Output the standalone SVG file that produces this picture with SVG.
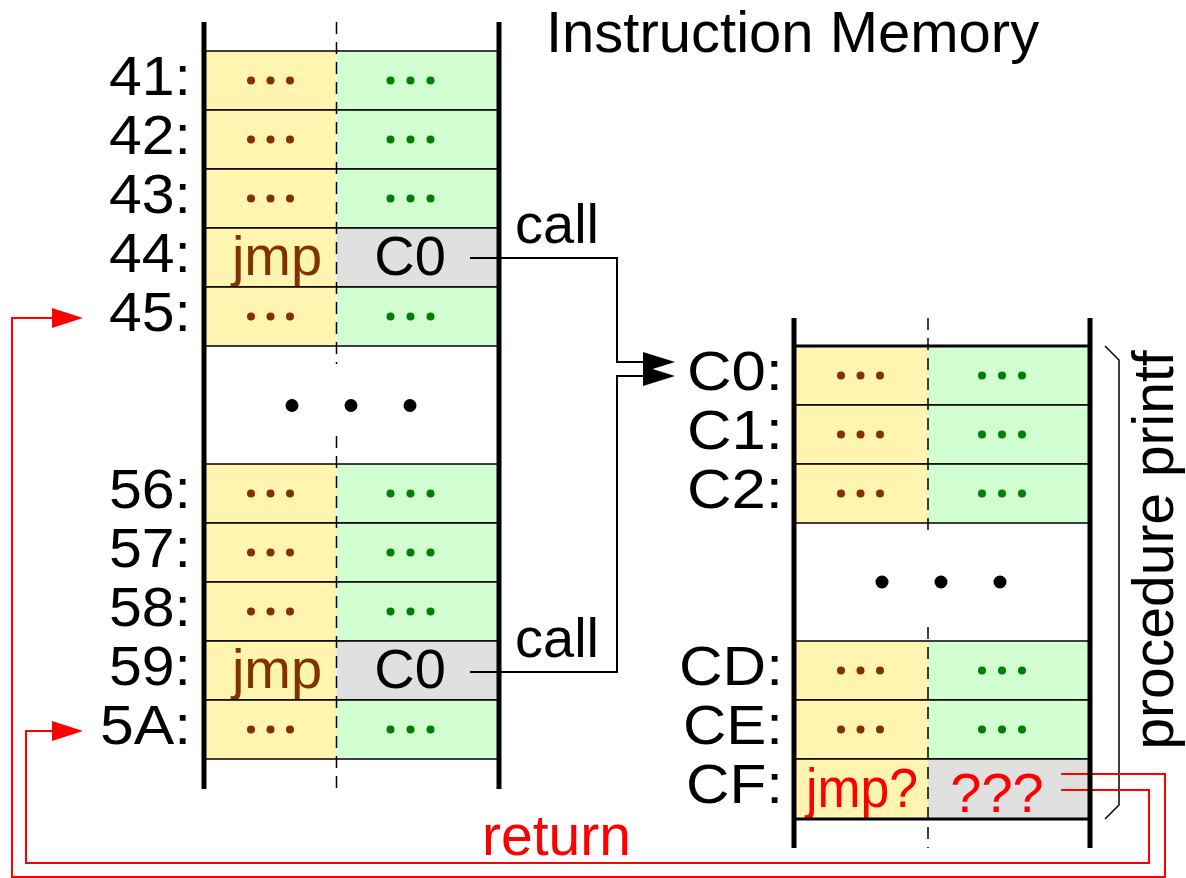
<svg xmlns="http://www.w3.org/2000/svg" width="1186" height="878" viewBox="0 0 1186 878">
  <style>
    text { font-family: "Liberation Sans", Arial, sans-serif; }
    .lbl { font-size: 56px; fill: #000; text-anchor: end; }
    .op { font-size: 56px; fill: #803300; text-anchor: middle; }
    .arg { font-size: 56px; fill: #000; text-anchor: middle; }
    .red { fill: #ff0000; }
    .op-cell { fill: #fff4b0; }
    .arg-cell { fill: #d2ffd2; }
    .addr-cell { fill: #e0e0e0; }
    .sep { stroke: #000; stroke-width: 1.5; fill: none; }
    .sep-bold { stroke: #000; stroke-width: 3; fill: none; }
    .wall { stroke: #000; stroke-width: 5; fill: none; }
    .split { stroke: #000; stroke-width: 1.5; stroke-dasharray: 12 8; fill: none; }
    .dot-op { fill: #803300; }
    .dot-arg { fill: #008000; }
    .ell { fill: #000; }
    .link { stroke: #000; stroke-width: 2; fill: none; }
    .ret { stroke: #ff0000; stroke-width: 2; fill: none; }
    .brace { stroke: #000; stroke-width: 1.5; fill: none; }
  </style>
  <defs>
    <marker id="head-black" markerUnits="userSpaceOnUse" markerWidth="40" markerHeight="24" viewBox="-20 -12 40 24" refX="0" refY="0" orient="auto">
      <polygon points="-17,-10 15,0 -17,10" fill="#000"/>
    </marker>
    <marker id="head-red" markerUnits="userSpaceOnUse" markerWidth="40" markerHeight="24" viewBox="-20 -12 40 24" refX="0" refY="0" orient="auto">
      <polygon points="-16,-10 15,0 -16,10" fill="#ff0000"/>
    </marker>
    <!-- a generic row of the calling program: "... ..." -->
    <g id="row-plain-left">
      <rect class="op-cell" x="204" y="0" width="132.5" height="59"/>
      <rect class="arg-cell" x="336.5" y="0" width="162.5" height="59"/>
      <circle class="dot-op" cx="251" cy="29.5" r="4"/>
      <circle class="dot-op" cx="270.5" cy="29.5" r="4"/>
      <circle class="dot-op" cx="290" cy="29.5" r="4"/>
      <circle class="dot-arg" cx="390.5" cy="29.5" r="4"/>
      <circle class="dot-arg" cx="410.5" cy="29.5" r="4"/>
      <circle class="dot-arg" cx="430.5" cy="29.5" r="4"/>
      <line class="sep" x1="204" y1="0" x2="499" y2="0"/>
      <line class="sep" x1="204" y1="59" x2="499" y2="59"/>
    </g>
    <g id="row-plain-right">
      <rect class="op-cell" x="794" y="0" width="134" height="59"/>
      <rect class="arg-cell" x="928" y="0" width="162" height="59"/>
      <circle class="dot-op" cx="841" cy="29.5" r="4"/>
      <circle class="dot-op" cx="860.5" cy="29.5" r="4"/>
      <circle class="dot-op" cx="880" cy="29.5" r="4"/>
      <circle class="dot-arg" cx="982" cy="29.5" r="4"/>
      <circle class="dot-arg" cx="1002" cy="29.5" r="4"/>
      <circle class="dot-arg" cx="1022" cy="29.5" r="4"/>
      <line class="sep" x1="794" y1="0" x2="1090" y2="0"/>
      <line class="sep" x1="794" y1="59" x2="1090" y2="59"/>
    </g>
  </defs>

  <rect width="1186" height="878" fill="#fff"/>

  <text id="title" x="546" y="52" style="font-size:58px">Instruction Memory</text>

  <!-- main program -->
  <g id="main-program">
    <g id="row-41"><use href="#row-plain-left" y="51"/><text class="lbl" x="191" y="95" textLength="82" lengthAdjust="spacingAndGlyphs">41:</text></g>
    <g id="row-42"><use href="#row-plain-left" y="110"/><text class="lbl" x="191" y="154" textLength="82" lengthAdjust="spacingAndGlyphs">42:</text></g>
    <g id="row-43"><use href="#row-plain-left" y="169"/><text class="lbl" x="191" y="213" textLength="82" lengthAdjust="spacingAndGlyphs">43:</text></g>
    <g id="row-44">
      <rect class="op-cell" x="204" y="228" width="132.5" height="59"/>
      <rect class="addr-cell" x="336.5" y="228" width="162.5" height="59"/>
      <line class="sep" x1="204" y1="228" x2="499" y2="228"/>
      <line class="sep" x1="204" y1="287" x2="499" y2="287"/>
      <text class="op" x="277" y="275">jmp</text>
      <text class="arg" x="410" y="275">C0</text>
      <text class="lbl" x="191" y="272" textLength="82" lengthAdjust="spacingAndGlyphs">44:</text>
    </g>
    <g id="row-45"><use href="#row-plain-left" y="287"/><text class="lbl" x="191" y="331" textLength="82" lengthAdjust="spacingAndGlyphs">45:</text></g>
    <g id="gap-main">
      <circle class="ell" cx="292" cy="405.5" r="6.5"/>
      <circle class="ell" cx="351" cy="405.5" r="6.5"/>
      <circle class="ell" cx="410" cy="405.5" r="6.5"/>
    </g>
    <g id="row-56"><use href="#row-plain-left" y="464"/><text class="lbl" x="191" y="508" textLength="82" lengthAdjust="spacingAndGlyphs">56:</text></g>
    <g id="row-57"><use href="#row-plain-left" y="523"/><text class="lbl" x="191" y="567" textLength="82" lengthAdjust="spacingAndGlyphs">57:</text></g>
    <g id="row-58"><use href="#row-plain-left" y="582"/><text class="lbl" x="191" y="626" textLength="82" lengthAdjust="spacingAndGlyphs">58:</text></g>
    <g id="row-59">
      <rect class="op-cell" x="204" y="641" width="132.5" height="59"/>
      <rect class="addr-cell" x="336.5" y="641" width="162.5" height="59"/>
      <line class="sep" x1="204" y1="641" x2="499" y2="641"/>
      <line class="sep" x1="204" y1="700" x2="499" y2="700"/>
      <text class="op" x="277" y="688">jmp</text>
      <text class="arg" x="410" y="688">C0</text>
      <text class="lbl" x="191" y="685" textLength="82" lengthAdjust="spacingAndGlyphs">59:</text>
    </g>
    <g id="row-5A"><use href="#row-plain-left" y="700"/><text class="lbl" x="191" y="744" textLength="91" lengthAdjust="spacingAndGlyphs">5A:</text></g>
    <path class="split" d="M336.5 22 V364 M336.5 436 V789"/>
    <line class="wall" x1="204" y1="22" x2="204" y2="789"/>
    <line class="wall" x1="499" y1="22" x2="499" y2="789"/>
  </g>

  <!-- procedure printf -->
  <g id="procedure">
    <g id="row-C0"><use href="#row-plain-right" y="346"/><text class="lbl" x="783" y="390" textLength="96" lengthAdjust="spacingAndGlyphs">C0:</text></g>
    <g id="row-C1"><use href="#row-plain-right" y="405"/><text class="lbl" x="783" y="449" textLength="96" lengthAdjust="spacingAndGlyphs">C1:</text></g>
    <g id="row-C2"><use href="#row-plain-right" y="464"/><text class="lbl" x="783" y="508" textLength="96" lengthAdjust="spacingAndGlyphs">C2:</text></g>
    <g id="gap-proc">
      <circle class="ell" cx="882" cy="582" r="6.5"/>
      <circle class="ell" cx="941" cy="582" r="6.5"/>
      <circle class="ell" cx="1000" cy="582" r="6.5"/>
    </g>
    <g id="row-CD"><use href="#row-plain-right" y="641"/><text class="lbl" x="783" y="685" textLength="104" lengthAdjust="spacingAndGlyphs">CD:</text></g>
    <g id="row-CE"><use href="#row-plain-right" y="700"/><text class="lbl" x="783" y="744" textLength="100" lengthAdjust="spacingAndGlyphs">CE:</text></g>
    <g id="row-CF">
      <rect class="op-cell" x="794" y="759" width="134" height="60"/>
      <rect class="addr-cell" x="928" y="759" width="162" height="60"/>
      <line class="sep" x1="794" y1="759" x2="1090" y2="759"/>
      <text class="op red" x="862" y="807" textLength="112" lengthAdjust="spacingAndGlyphs">jmp?</text>
      <text class="arg red" x="997" y="812">???</text>
      <text class="lbl" x="783" y="803" textLength="97" lengthAdjust="spacingAndGlyphs">CF:</text>
    </g>
    <line class="sep-bold" x1="794" y1="346" x2="1090" y2="346"/>
    <line class="sep-bold" x1="794" y1="819" x2="1090" y2="819"/>
    <path class="split" d="M928 318 V537 M928 627 V848"/>
    <path id="brace" class="brace" d="M1105 346 L1119 360 V805 L1105 819"/>
    <text id="proc-name" transform="translate(1173 550) rotate(-90)" style="font-size:57px;text-anchor:middle">procedure printf</text>
  </g>

  <!-- call and return connectors -->
  <g id="connectors">
    <path class="link" d="M470 258 H617 V362 H660" marker-end="url(#head-black)"/>
    <path class="link" d="M470 672 H617 V376 H660" marker-end="url(#head-black)"/>
    <text x="515" y="243" style="font-size:56px">call</text>
    <text x="515" y="657" style="font-size:56px">call</text>
    <path class="ret" d="M1061 774 H1165 V877 H12 V318 H68" marker-end="url(#head-red)"/>
    <path class="ret" d="M1061 790 H1149 V863 H26 V731 H68" marker-end="url(#head-red)"/>
    <text class="red" x="482" y="855" style="font-size:57px">return</text>
  </g>

  <!-- procedure walls drawn over the return lines -->
  <g id="procedure-walls">
    <line class="wall" x1="794" y1="318" x2="794" y2="848"/>
    <line class="wall" x1="1090" y1="318" x2="1090" y2="848"/>
  </g>
</svg>
